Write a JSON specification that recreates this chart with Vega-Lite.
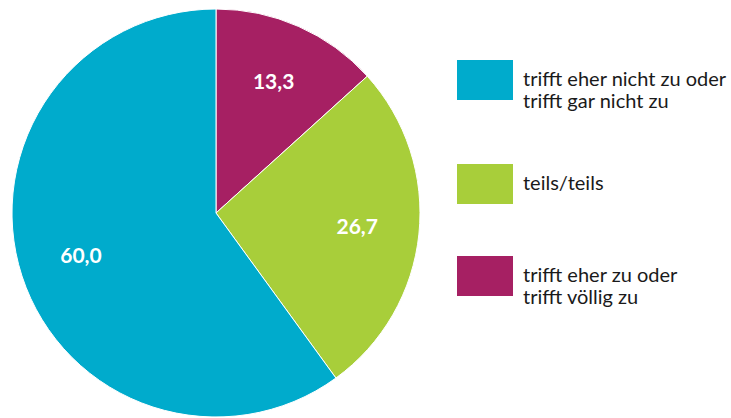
{
  "$schema": "https://vega.github.io/schema/vega-lite/v6.json",
  "width": 432,
  "height": 426,
  "padding": 0,
  "autosize": {"type": "pad"},
  "background": "white",
  "config": {
    "view": {"stroke": null},
    "font": "Lato",
    "locale": {"number": {"decimal": ",", "thousands": ".", "grouping": [3], "currency": ["", " €"]}}
  },
  "data": {
    "values": [
      {"kategorie": "trifft eher zu oder trifft völlig zu", "prozent": 13.3, "ord": 1},
      {"kategorie": "teils/teils", "prozent": 26.7, "ord": 2},
      {"kategorie": "trifft eher nicht zu oder trifft gar nicht zu", "prozent": 60.0, "ord": 3}
    ]
  },
  "encoding": {
    "theta": {"field": "prozent", "type": "quantitative", "stack": true},
    "order": {"field": "ord", "type": "ordinal"},
    "color": {
      "field": "kategorie",
      "type": "nominal",
      "scale": {
        "domain": ["trifft eher nicht zu oder trifft gar nicht zu", "teils/teils", "trifft eher zu oder trifft völlig zu"],
        "range": ["#00ABCC", "#A8CE3A", "#A62063"]
      },
      "legend": {
        "title": null,
        "orient": "none",
        "legendX": 457,
        "legendY": 52,
        "symbolType": "M-1,-0.714H1V0.714H-1Z",
        "symbolSize": 3136,
        "symbolStrokeWidth": 0,
        "symbolOpacity": 1,
        "rowPadding": 44,
        "labelOffset": 10,
        "labelFontSize": 20,
        "labelFont": "Lato",
        "labelColor": "#1a1a1a",
        "labelLimit": 300,
        "labelExpr": "split(replace(datum.label, ' oder ', ' oder|'), '|')",
        "labelLineHeight": 26
      }
    }
  },
  "layer": [
    {"mark": {"type": "arc", "outerRadius": 204, "stroke": "white", "strokeWidth": 1}},
    {
      "mark": {"type": "text", "radius": 142, "fontSize": 21, "fontWeight": "bold", "fill": "white", "font": "Lato"},
      "encoding": {
        "text": {"field": "prozent", "type": "quantitative", "format": ".1f"},
        "color": {"value": "white"}
      }
    }
  ]
}
